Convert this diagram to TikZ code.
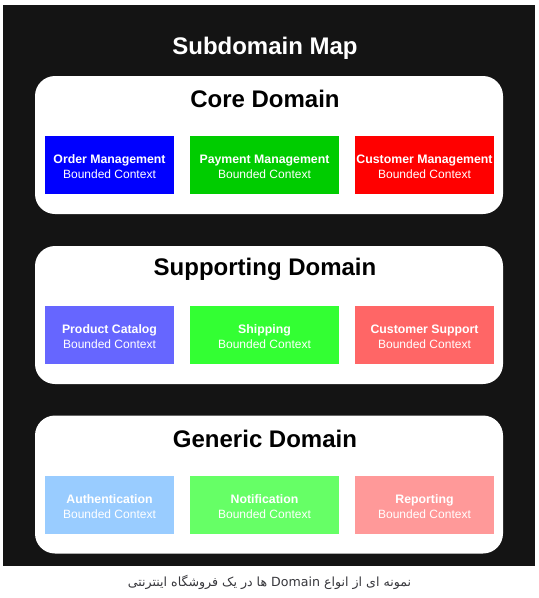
\documentclass[tikz,border=0pt]{standalone}
\usepackage{fontspec}
\setmainfont{Liberation Sans}
\newfontfamily\persianfont[Script=Arabic]{DejaVu Sans}
\TeXXeTstate=1
\usetikzlibrary{positioning}
\definecolor{mapbg}{RGB}{20,20,20}
\definecolor{captiongray}{RGB}{55,55,60}
\definecolor{coreblue}{RGB}{0,0,255}
\definecolor{coregreen}{RGB}{0,204,0}
\definecolor{corered}{RGB}{255,0,0}
\definecolor{suppblue}{RGB}{102,102,255}
\definecolor{suppgreen}{RGB}{51,255,51}
\definecolor{suppred}{RGB}{255,102,102}
\definecolor{genblue}{RGB}{153,204,255}
\definecolor{gengreen}{RGB}{102,255,102}
\definecolor{genred}{RGB}{255,153,153}
\newcommand{\ctxname}[1]{{\rule{0pt}{13pt}\fontsize{12.3}{15}\selectfont\bfseries #1}}

\begin{document}
\begin{tikzpicture}[x=1pt,y=-1pt,
    panel/.style={fill=white,rounded corners=20pt,inner sep=0pt,
      minimum width=468pt,minimum height=138pt},
    paneltitle/.style={font=\fontsize{24}{28}\selectfont\bfseries,
      text=black,inner sep=0pt},
    ctxbox/.style={inner sep=0pt,minimum height=58pt,align=center,
      text=white,font=\fontsize{12}{15}\selectfont}]
  \useasboundingbox[fill=white] (0,0) rectangle (539,598);
  \fill[mapbg] (3,5) rectangle (535,566);

  \node[font=\fontsize{24}{28}\selectfont\bfseries,text=white,
    inner sep=0pt] (maptitle) at (265,48) {Subdomain Map};

  % core
  \node[panel] (core) at (269,145) {};
  \node[paneltitle] (coretitle) at (265,99) {Core Domain};
  \node[ctxbox,fill=coreblue,minimum width=129pt] (order) at (109.5,165)
    {\ctxname{Order Management}\\Bounded Context};
  \node[ctxbox,fill=coregreen,minimum width=149pt] (payment) at (264.5,165)
    {\ctxname{Payment Management}\\Bounded Context};
  \node[ctxbox,fill=corered,minimum width=139pt] (customer) at (424.5,165)
    {\ctxname{Customer Management}\\Bounded Context};

  % supporting
  \node[panel] (supporting) at (269,315) {};
  \node[paneltitle] (supptitle) at (265,269) {Supporting Domain};
  \node[ctxbox,fill=suppblue,minimum width=129pt] (catalog) at (109.5,335)
    {\ctxname{Product Catalog}\\Bounded Context};
  \node[ctxbox,fill=suppgreen,minimum width=149pt] (shipping) at (264.5,335)
    {\ctxname{Shipping}\\Bounded Context};
  \node[ctxbox,fill=suppred,minimum width=139pt] (support) at (424.5,335)
    {\ctxname{Customer Support}\\Bounded Context};

  % generic
  \node[panel] (generic) at (269,484.5) {};
  \node[paneltitle] (gentitle) at (265,439) {Generic Domain};
  \node[ctxbox,fill=genblue,minimum width=129pt] (auth) at (109.5,505)
    {\ctxname{Authentication}\\Bounded Context};
  \node[ctxbox,fill=gengreen,minimum width=149pt] (notify) at (264.5,505)
    {\ctxname{Notification}\\Bounded Context};
  \node[ctxbox,fill=genred,minimum width=139pt] (report) at (424.5,505)
    {\ctxname{Reporting}\\Bounded Context};

  \node[text=captiongray,inner sep=0pt] (caption) at (269.5,582)
    {\persianfont\fontsize{12.6}{15}\selectfont\beginR نمونه ای از انواع \beginL Domain\endL{} ها در یک فروشگاه اینترنتی\endR};
\end{tikzpicture}
\end{document}
